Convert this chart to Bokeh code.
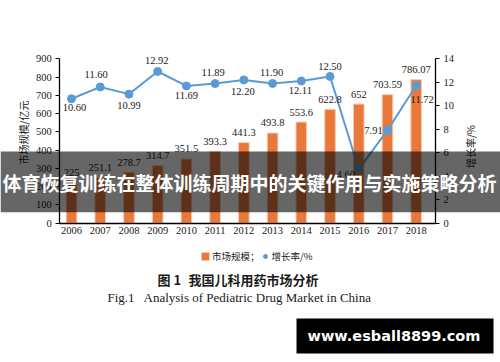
import math
from bokeh.plotting import figure
from bokeh.models import (ColumnDataSource, LinearAxis, Range1d, LabelSet, Label,
                          BoxAnnotation, Legend, LegendItem, FixedTicker)
from bokeh.core.properties import value
from bokeh.embed import file_html
from bokeh.resources import INLINE

# ---------------- data ----------------
years = ["2006", "2007", "2008", "2009", "2010", "2011", "2012",
         "2013", "2014", "2015", "2016", "2017", "2018"]
market_size = [225, 251.1, 278.7, 314.7, 351.5, 393.3, 441.3,
               493.8, 553.6, 622.8, 652, 703.59, 786.07]
market_size_text = ["225", "251.1", "278.7", "314.7", "351.5", "393.3", "441.3",
                    "493.8", "553.6", "622.8", "652", "703.59", "786.07"]
growth_rate = [10.60, 11.60, 10.99, 12.92, 11.69, 11.89, 12.20,
               11.90, 12.11, 12.50, 4.60, 7.91, 11.72]
growth_rate_text = ["10.60", "11.60", "10.99", "12.92", "11.69", "11.89", "12.20",
                    "11.90", "12.11", "12.50", "4.60", "7.91", "11.72"]
left_ticks = [0, 100, 200, 300, 400, 500, 600, 700, 800, 900]
right_ticks = [0, 2, 4, 6, 8, 10, 12, 14]
left_max, right_max = 900, 14

# label placement for the growth-rate labels (pixels, +dx right, +dy down)
rate_label_dx = [3, -4, 0, -1, 0, -2, -1, -1, -1, 0, -13, -14, 6]
rate_label_dy = [9, -12, 11, -11, 10, -11, 12, -11, 10, -10, 5, 0, 14]

# ---------------- layout ----------------
W, H = 500, 360
# plot area (axis box) in canvas pixels
PL, PR, PT, PB = 59.3, 435.0, 58.3, 222.7
X_LO, X_HI = -0.408, len(years) - 1 + 0.672

kx = (PR - PL) / (X_HI - X_LO)
ky = (PB - PT) / left_max
kr = (PB - PT) / right_max


def sx(px):
    return px


def sy(py):
    return H - py


SERIF = "Liberation Serif"
CJK = "Noto Sans CJK SC"
BAR_COLOR = "#E8793A"
LINE_COLOR = "#5B9BD5"
TXT = "#1a1a1a"

idx = list(range(len(years)))
src = ColumnDataSource(dict(
    x=idx, size=market_size, size_text=market_size_text,
    rate=growth_rate, rate_text=growth_rate_text,
    dx=rate_label_dx, dy=[-d for d in rate_label_dy],
))

p = figure(width=W, height=H, output_backend="svg", toolbar_location=None,
           title=None,
           x_range=Range1d(X_LO - PL / kx, X_HI + (W - PR) / kx),
           y_range=Range1d(-(H - PB) / ky, left_max + PT / ky),
           min_border=0)
p.outline_line_color = None
p.grid.visible = False
p.background_fill_color = "white"
p.border_fill_color = "white"
p.extra_y_ranges = {"rate": Range1d(-(H - PB) / kr, right_max + PT / kr)}

# axes (drawn at fixed positions inside the full-canvas frame)
xa = p.xaxis[0]
xa.fixed_location = 0
xa.bounds = (X_LO, X_HI)
xa.ticker = FixedTicker(ticks=idx)
xa.major_label_overrides = {i: y for i, y in enumerate(years)}
xa.major_tick_out = 0
xa.major_tick_in = 0
xa.minor_tick_out = 0
xa.minor_tick_in = 0
xa.major_label_standoff = 4

ya = p.yaxis[0]
ya.fixed_location = X_LO
ya.bounds = (0, left_max)
ya.ticker = FixedTicker(ticks=left_ticks)
ya.minor_tick_out = 0
ya.minor_tick_in = 0
ya.major_tick_out = 4
ya.major_tick_in = 0
ya.major_label_standoff = 4

ra = LinearAxis(y_range_name="rate", ticker=FixedTicker(ticks=right_ticks),
                fixed_location=X_HI, bounds=(0, right_max))
ra.minor_tick_out = 0
ra.minor_tick_in = 0
ra.major_tick_out = 4
ra.major_tick_in = 0
ra.major_label_standoff = 4
p.add_layout(ra, "right")

for ax in (xa, ya, ra):
    ax.axis_line_color = "black"
    ax.axis_line_width = 1.3
    ax.major_tick_line_color = "black"
    ax.major_label_text_font = SERIF
    ax.major_label_text_font_size = "10.5px"
    ax.major_label_text_color = TXT

# glyphs
bars = p.vbar(x="x", top="size", width=0.37, source=src,
              fill_color=BAR_COLOR, line_color="#F7CDB2", line_width=1)
p.line(x="x", y="rate", source=src, y_range_name="rate",
       line_color=LINE_COLOR, line_width=2)
dots = p.scatter(x="x", y="rate", source=src, y_range_name="rate",
                 size=8, fill_color=LINE_COLOR, line_color=LINE_COLOR)

# data labels
p.add_layout(LabelSet(x="x", y="size", text="size_text", source=src,
                      y_offset=10, text_align="center", text_baseline="middle",
                      text_font=value(SERIF), text_font_size="10.5px", text_color=TXT))
p.add_layout(LabelSet(x="x", y="rate", text="rate_text", source=src,
                      y_range_name="rate", x_offset="dx", y_offset="dy",
                      text_align="center", text_baseline="middle",
                      text_font=value(SERIF), text_font_size="10.5px", text_color=TXT))


def label(px, py, text, font=CJK, size="10px", color=TXT, align="center",
          bold=False, angle=0.0):
    p.add_layout(Label(x=sx(px), y=sy(py), x_units="screen", y_units="screen",
                       text=text, angle=angle, text_align=align,
                       text_baseline="middle", text_font=font,
                       text_font_style="bold" if bold else "normal",
                       text_font_size=size, text_color=color))


# axis titles
label(23, 132, "市场规模/亿元", angle=math.pi / 2)
label(469.5, 146, "增长率/%", angle=math.pi / 2)

# legend
legend = Legend(items=[LegendItem(label="市场规模；", renderers=[bars]),
                       LegendItem(label="增长率/%", renderers=[dots])],
                orientation="horizontal", location=(sx(200), sy(262.5)),
                glyph_width=10, glyph_height=10, label_standoff=2, spacing=0,
                padding=0, margin=0, label_height=10, label_width=10,
                background_fill_alpha=0, border_line_color=None,
                label_text_font=CJK, label_text_font_size="9.5px",
                label_text_color=TXT)
p.add_layout(legend, "center")

# captions
label(157, 279, "图 1", size="13px", bold=True, align="left")
label(188, 279, "我国儿科用药市场分析", size="13px", bold=True, align="left")
label(107, 297, "Fig.1", font=SERIF, size="13px", align="left")
label(143, 297, "Analysis of Pediatric Drug Market in China", font=SERIF,
      size="13px", align="left")

# overlay banner
p.add_layout(BoxAnnotation(left=sx(0), right=sx(500), top=sy(151), bottom=sy(211.7),
                           left_units="screen", right_units="screen",
                           top_units="screen", bottom_units="screen",
                           fill_color="black", fill_alpha=0.6, line_color=None))
label(249, 181.5, "体育恢复训练在整体训练周期中的关键作用与实施策略分析",
      size="19px", bold=True, color="white")

# watermark box
p.add_layout(BoxAnnotation(left=sx(296), right=sx(493), top=sy(318), bottom=sy(353),
                           left_units="screen", right_units="screen",
                           top_units="screen", bottom_units="screen",
                           fill_color="black", fill_alpha=1.0, line_color=None))
label(393.5, 335.5, "www.esball8899.com", font="DejaVu Sans", size="14.5px",
      bold=True, color="white")

open("out.html", "w").write(file_html(p, INLINE))
